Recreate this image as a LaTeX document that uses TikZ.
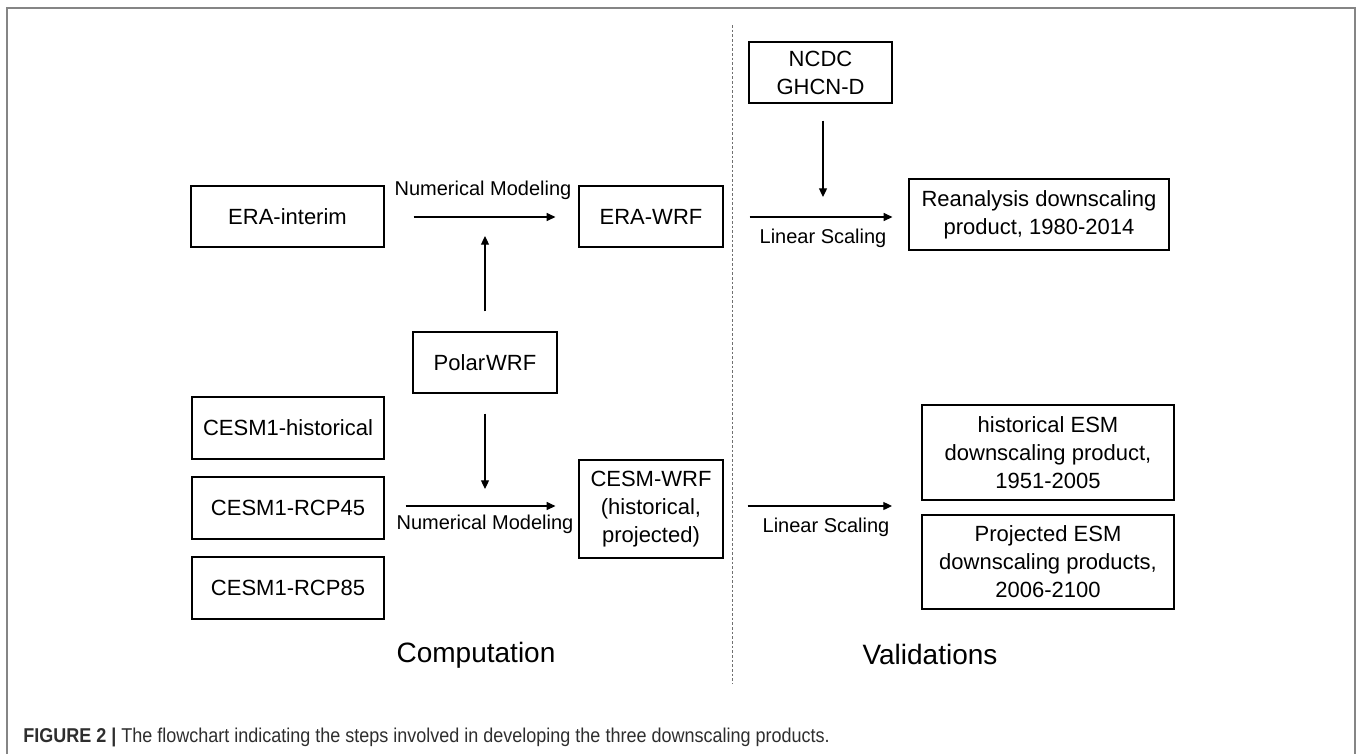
\documentclass[tikz,border=0pt]{standalone}
\usepackage{fontspec}
\setmainfont{Liberation Sans}
\newfontfamily\capfont[FakeStretch=0.9]{Liberation Sans}
\usetikzlibrary{arrows.meta}
\definecolor{framegray}{HTML}{858585}
\definecolor{dashgray}{HTML}{707070}
\definecolor{capgray}{HTML}{2E2E2E}
\begin{document}
\begin{tikzpicture}[x=0.75pt,y=-0.75pt,
  box/.style={draw=black, line width=0.9pt, inner sep=0pt, align=center,
    font=\fontsize{16.5}{21}\selectfont},
  arr/.style={-{Triangle[length=6.5pt,width=6pt]}, line width=0.9pt},
  lbl/.style={inner sep=0pt, font=\fontsize{15}{18}\selectfont},
  big/.style={inner sep=0pt, font=\fontsize{21}{25}\selectfont}]
\useasboundingbox (0,0) rectangle (1357,754);
% frame
\draw[framegray, line width=1.5pt] (7,754) -- (7,8) -- (1355,8) -- (1355,754);
% separator
\draw[dashgray, line width=0.6pt, dash pattern=on 2pt off 1.5pt] (732,25) -- (732,684);

% computation side
\node[box, minimum width=144.75pt, minimum height=45.75pt] (era) at (287.5,216.5) {ERA-interim};
\node[box, minimum width=108pt, minimum height=45.75pt] (erawrf) at (651,216.5) {ERA-WRF};
\node[box, minimum width=108pt, minimum height=45.75pt] (polar) at (485,362.5) {Polar\kern0.8pt WRF};
\node[box, minimum width=144pt, minimum height=46.5pt] (chist) at (288,428) {CESM1-historical};
\node[box, minimum width=144pt, minimum height=46.5pt] (rcp45) at (288,508) {CESM1-RCP45};
\node[box, minimum width=144pt, minimum height=46.5pt] (rcp85) at (288,588) {CESM1-RCP85};
\node[box, minimum width=108pt, minimum height=73.5pt] (cesmwrf) at (651,509) {CESM-WRF\\(historical,\\projected)};

% validation side
\node[box, minimum width=107.25pt, minimum height=45.75pt] (ncdc) at (820.5,72.5) {NCDC\\GHCN-D};
\node[box, minimum width=195pt, minimum height=53.25pt] (rean) at (1039,214.5) {Reanalysis downscaling\\ product, 1980-2014};
\node[box, minimum width=189pt, minimum height=71.25pt] (esmhist) at (1048,452.5) {historical ESM\\downscaling product,\\1951-2005};
\node[box, minimum width=189pt, minimum height=70.5pt] (esmproj) at (1048,562) {Projected ESM\\downscaling products,\\2006-2100};

% junction coordinates
\coordinate (topmid) at (485,217);
\coordinate (botmid) at (485,506);
\coordinate (ncdcmid) at (823,217);
\coordinate (esmmid) at (922,506);

% arrows
\draw[arr, shorten <=29pt*0.75, shorten >=23pt*0.75] (era.east |- topmid) -- (erawrf.west |- topmid);
\draw[arr, shorten <=20pt*0.75, shorten >=19pt*0.75] (polar.north) -- (topmid);
\draw[arr, shorten <=20pt*0.75, shorten >=17pt*0.75] (polar.south) -- (botmid);
\draw[arr, shorten <=21pt*0.75, shorten >=23pt*0.75] (rcp45.east |- botmid) -- (cesmwrf.west |- botmid);
\draw[arr, shorten <=17pt*0.75, shorten >=20pt*0.75] (ncdc.south -| ncdcmid) -- (ncdcmid);
\draw[arr, shorten <=26pt*0.75, shorten >=16pt*0.75] (erawrf.east |- topmid) -- (rean.west |- topmid);
\draw[arr, shorten <=24pt*0.75, shorten >=30pt*0.75] (cesmwrf.east |- esmmid) -- (esmmid);

% arrow labels
\node[lbl] (nm1) at (483,190) {Numerical Modeling};
\node[lbl] (nm2) at (485,524) {Numerical Modeling};
\node[lbl] (ls1) at (823,238) {Linear Scaling};
\node[lbl] (ls2) at (826,527) {Linear Scaling};

% section titles
\node[big] (comp) at (476,655) {Computation};
\node[big] (valid) at (930,654) {Validations};

% caption
\node[anchor=base west, inner sep=0pt, text=capgray, font=\capfont\fontsize{15}{18}\selectfont] (cap) at (23,742)
  {\textbf{FIGURE 2 |} The flowchart indicating the steps involved in developing the three downscaling products.};
\end{tikzpicture}
\end{document}
